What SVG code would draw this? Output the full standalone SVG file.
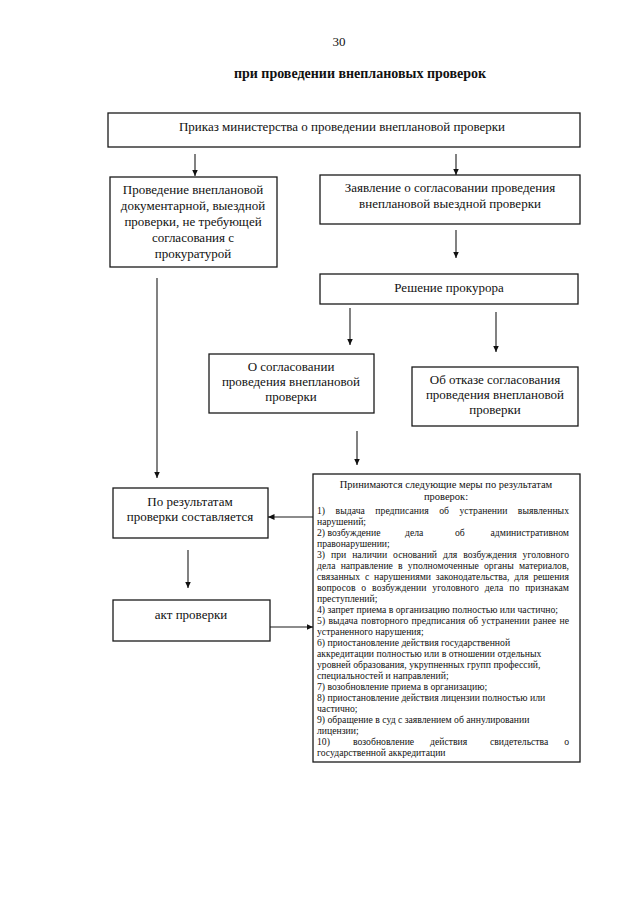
<svg xmlns="http://www.w3.org/2000/svg" width="640" height="905" viewBox="0 0 640 905">
<style>
.box{fill:#fff;stroke:#1a1a1a;stroke-width:1.3}
.t{font-family:"Liberation Serif","Times New Roman",serif;font-size:13px;fill:#111;text-anchor:middle}
.l{font-family:"Liberation Serif","Times New Roman",serif;font-size:9.7px;fill:#111}
.h{font-family:"Liberation Serif","Times New Roman",serif;font-size:10.5px;fill:#111;text-anchor:middle}
.e{text-anchor:end}
.c{stroke:#1a1a1a;stroke-width:1.1;fill:none}
</style>
<defs>
<marker id="ah" markerUnits="userSpaceOnUse" markerWidth="7" markerHeight="7" refX="6.5" refY="3.5" orient="auto">
<path d="M0,0.5 L6.5,3.5 L0,6.5 z" fill="#111"/>
</marker>
</defs>
<rect width="640" height="905" fill="#fff"/>
<text x="339" y="46" style="font-family:'Liberation Serif',serif;font-size:13px;fill:#111" text-anchor="middle">30</text>
<text x="360" y="78" style="font-family:'Liberation Serif',serif;font-size:14px;font-weight:bold;fill:#111" text-anchor="middle">при проведении внеплановых проверок</text>

<g id="n1"><rect class="box" x="108" y="113" width="472" height="34"/><text class="t" x="342" y="131">Приказ министерства о проведении внеплановой проверки</text></g>
<g id="n2"><rect class="box" x="110" y="177" width="167" height="90"/>
<text class="t" x="193" y="194">Проведение внеплановой</text>
<text class="t" x="193" y="210">документарной, выездной</text>
<text class="t" x="193" y="226">проверки, не требующей</text>
<text class="t" x="193" y="242">согласования с</text>
<text class="t" x="193" y="258">прокуратурой</text></g>
<g id="n3"><rect class="box" x="320" y="175" width="260" height="49"/>
<text class="t" x="450" y="192">Заявление о согласовании проведения</text>
<text class="t" x="450" y="208">внеплановой выездной проверки</text></g>
<g id="n4"><rect class="box" x="320" y="274" width="258" height="30"/><text class="t" x="449" y="292">Решение прокурора</text></g>
<g id="n5"><rect class="box" x="209" y="354" width="165" height="59"/>
<text class="t" x="291" y="371">О согласовании</text>
<text class="t" x="291" y="386">проведения внеплановой</text>
<text class="t" x="291" y="401">проверки</text></g>
<g id="n6"><rect class="box" x="412" y="367" width="166" height="59"/>
<text class="t" x="495" y="384">Об отказе согласования</text>
<text class="t" x="495" y="399">проведения внеплановой</text>
<text class="t" x="495" y="414">проверки</text></g>
<g id="n7"><rect class="box" x="113" y="488" width="155" height="50"/>
<text class="t" x="190" y="506">По результатам</text>
<text class="t" x="190" y="521">проверки составляется</text></g>
<g id="n8"><rect class="box" x="113" y="600" width="157" height="41"/>
<text class="t" x="191" y="619">акт проверки</text></g>
<g id="n9"><rect class="box" x="313" y="474" width="267" height="288"/>
<text class="h" x="446" y="488">Принимаются следующие меры по результатам</text>
<text class="h" x="446" y="500">проверок:</text>
<text class="l" x="317" y="513.5" word-spacing="8" textLength="252" lengthAdjust="spacing">1) выдача предписания об устранении выявленных</text>
<text class="l" x="317" y="524.5">нарушений;</text>
<text class="l" x="317" y="535.5">2) возбуждение</text><text class="l" x="405" y="535.5">дела</text><text class="l" x="455" y="535.5">об</text><text class="l e" x="569" y="535.5">административном</text>
<text class="l" x="317" y="546.5">правонарушении;</text>
<text class="l" x="317" y="557.5" word-spacing="3.4" textLength="252" lengthAdjust="spacing">3) при наличии оснований для возбуждения уголовного</text>
<text class="l" x="317" y="568.5" word-spacing="2.7" textLength="252" lengthAdjust="spacing">дела направление в уполномоченные органы материалов,</text>
<text class="l" x="317" y="579.5" word-spacing="2.3" textLength="252" lengthAdjust="spacing">связанных с нарушениями законодательства, для решения</text>
<text class="l" x="317" y="590.5" word-spacing="3.4" textLength="252" lengthAdjust="spacing">вопросов о возбуждении уголовного дела по признакам</text>
<text class="l" x="317" y="601.5">преступлений;</text>
<text class="l" x="317" y="612.5">4) запрет приема в организацию полностью или частично;</text>
<text class="l" x="317" y="623.5" word-spacing="0.8" textLength="252" lengthAdjust="spacing">5) выдача повторного предписания об устранении ранее не</text>
<text class="l" x="317" y="634.5">устраненного нарушения;</text>
<text class="l" x="317" y="645.5">6) приостановление действия государственной</text>
<text class="l" x="317" y="656.5">аккредитации полностью или в отношении отдельных</text>
<text class="l" x="317" y="667.5">уровней образования, укрупненных групп профессий,</text>
<text class="l" x="317" y="678.5">специальностей и направлений;</text>
<text class="l" x="317" y="689.5">7) возобновление приема в организацию;</text>
<text class="l" x="317" y="700.5">8) приостановление действия лицензии полностью или</text>
<text class="l" x="317" y="711.5">частично;</text>
<text class="l" x="317" y="722.5">9) обращение в суд с заявлением об аннулировании</text>
<text class="l" x="317" y="733.5">лицензии;</text>
<text class="l" x="317" y="744.5">10)</text><text class="l" x="353" y="744.5">возобновление</text><text class="l" x="430" y="744.5">действия</text><text class="l" x="490" y="744.5">свидетельства</text><text class="l e" x="569" y="744.5">о</text>
<text class="l" x="317" y="755.5">государственной аккредитации</text></g>

<g id="connectors">
<line class="c" x1="195" y1="154" x2="195" y2="176" marker-end="url(#ah)"/>
<line class="c" x1="456" y1="154" x2="456" y2="175" marker-end="url(#ah)"/>
<line class="c" x1="456" y1="230" x2="456" y2="258" marker-end="url(#ah)"/>
<line class="c" x1="157" y1="278" x2="157" y2="478" marker-end="url(#ah)"/>
<line class="c" x1="350" y1="308" x2="350" y2="345" marker-end="url(#ah)"/>
<line class="c" x1="496" y1="312" x2="496" y2="352" marker-end="url(#ah)"/>
<line class="c" x1="357" y1="431" x2="357" y2="465" marker-end="url(#ah)"/>
<line class="c" x1="188" y1="550" x2="188" y2="588" marker-end="url(#ah)"/>
<line class="c" x1="313" y1="517" x2="268" y2="517" marker-end="url(#ah)"/>
<line class="c" x1="270" y1="627" x2="313" y2="627" marker-end="url(#ah)"/>
</g>
</svg>
